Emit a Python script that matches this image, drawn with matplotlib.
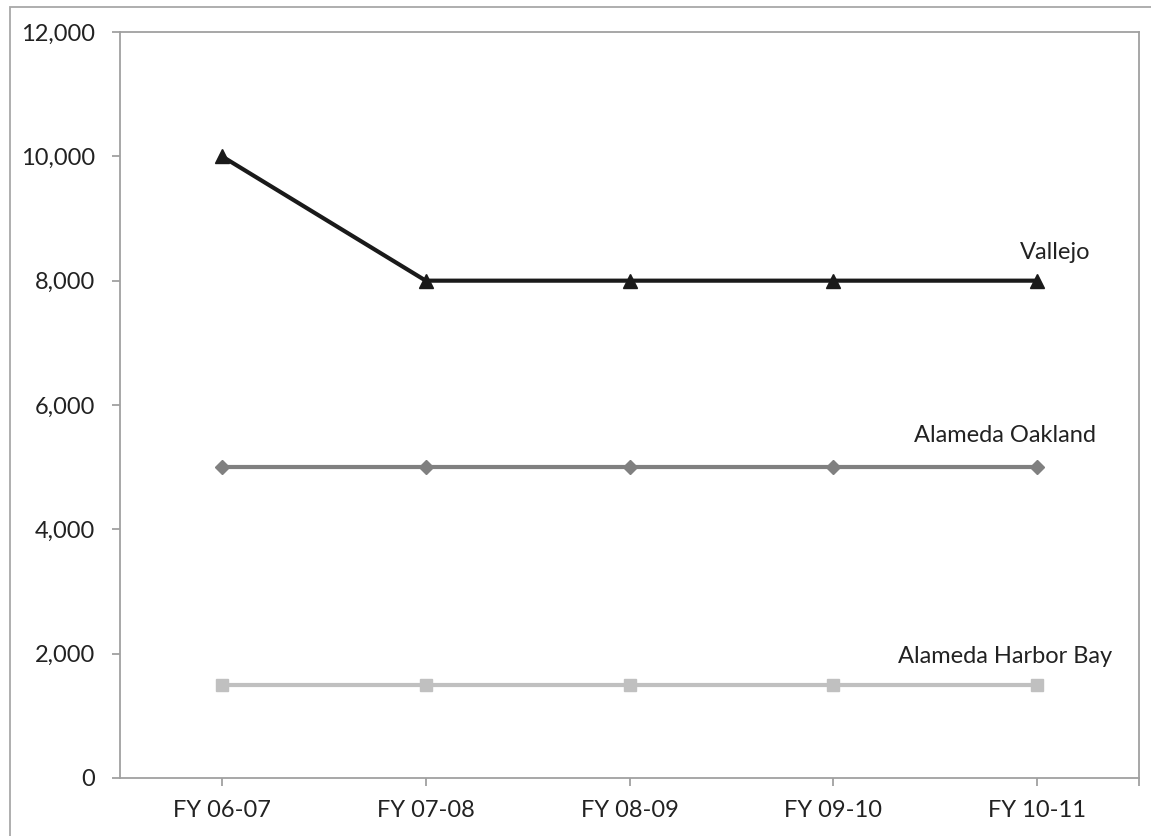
import numpy as np
import matplotlib.pyplot as plt
from matplotlib.patches import Rectangle
from matplotlib.ticker import FuncFormatter

# Fiscal years on the category axis
years = ['FY 06-07', 'FY 07-08', 'FY 08-09', 'FY 09-10', 'FY 10-11']

# Values per route
vallejo = [10000, 8000, 8000, 8000, 8000]
alameda_oakland = [5000, 5000, 5000, 5000, 5000]
harbor_bay = [1500, 1500, 1500, 1500, 1500]

plt.rcParams['font.family'] = ['Lato', 'DejaVu Sans']

fig = plt.figure(figsize=(11.51, 8.36), dpi=100)
ax = fig.add_axes([0.1043, 0.0694, 0.8853, 0.8923])

x = np.arange(len(years))
ax.plot(x, vallejo, color='#1a1a1a', lw=3, marker='^', ms=10, zorder=3)
ax.plot(x, alameda_oakland, color='#808080', lw=3, marker='D', ms=7, zorder=3)
ax.plot(x, harbor_bay, color='#c0c0c0', lw=3, marker='s', ms=9, zorder=3)

# series names next to the last point
txt = dict(fontsize=17, color='#222222', ha='center', va='center', textcoords='offset points')
ax.annotate('Vallejo', (x[-1], vallejo[-1]), xytext=(13, 20), **txt)
ax.annotate('Alameda Oakland', (x[-1], alameda_oakland[-1]), xytext=(-23, 23), **txt)
ax.annotate('Alameda Harbor Bay', (x[-1], harbor_bay[-1]), xytext=(-23, 20), **txt)

ax.set_xlim(-0.5, len(years) - 0.5)
ax.set_ylim(0, 12000)
ax.set_yticks(np.arange(0, 12001, 2000))
ax.yaxis.set_major_formatter(FuncFormatter(lambda v, p: '{:,.0f}'.format(v)))
ax.set_xticks(x)
ax.set_xticklabels(years)
ax.set_xticks([len(years) - 0.5], minor=True)

for s in ax.spines.values():
    s.set_color('#a0a0a0')
    s.set_linewidth(1.3)
ax.tick_params(axis='both', which='both', color='#a0a0a0', width=1.3, length=6,
               labelsize=17, labelcolor='#222222')
ax.tick_params(axis='x', pad=10)
ax.tick_params(axis='y', pad=12)

# chart frame around everything
fig.patches.append(Rectangle((10 / 1151, -0.1), 1.2, 1.1 - 7 / 836, transform=fig.transFigure,
                             fill=False, edgecolor='#a8a8a8', lw=1.3, zorder=0))

fig.savefig('out.png', dpi=100)
